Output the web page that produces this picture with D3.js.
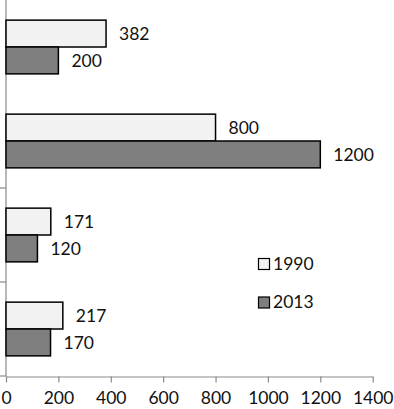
<!DOCTYPE html>
<html><head><meta charset="utf-8">
<script src="https://cdn.jsdelivr.net/npm/d3@7"></script>
<style>body{margin:0;background:#fff}svg{display:block}</style>
</head><body>
<svg id="c" width="394" height="409"></svg>
<script>
const categories = ["A", "B", "C", "D"];
const seriesNames = ["1990", "2013"];
const values1990 = [382, 800, 171, 217];
const values2013 = [200, 1200, 120, 170];
const xTicks = [0, 200, 400, 600, 800, 1000, 1200, 1400];
const colors = ["#f2f2f2", "#7f7f7f"];

const svg = d3.select("#c");
const font = "Lato, 'Open Sans', sans-serif";
const fs = 17.5;
const x = d3.scaleLinear().domain([0, 1400]).range([6, 372.7]);
const y0 = d3.scaleBand().domain(categories).range([0, 376]);
const y1 = d3.scaleBand().domain(seriesNames).range([0, y0.bandwidth()]).paddingOuter(0.75).paddingInner(0);
const seriesVals = [values1990, values2013];

// left axis
const yAxis = d3.axisLeft(y0).tickSize(6).tickFormat("");
const gy = svg.append("g").attr("transform", "translate(6,0)").call(yAxis);
gy.selectAll(".tick line").attr("transform", `translate(0,${y0.bandwidth()/2})`);
gy.selectAll(".tick").filter((d,i)=>i===0).remove();
gy.selectAll("line,path").attr("stroke", "#8a8a8a").attr("stroke-width", 1.2);
gy.select(".domain").attr("d", "M0,0V376.5");

// bottom axis
const xAxis = d3.axisBottom(x).tickValues(xTicks).tickFormat(d3.format("d")).tickSize(6).tickSizeOuter(0).tickPadding(0);
const gx = svg.append("g").attr("transform", "translate(0,376.5)").call(xAxis);
gx.selectAll("line,path").attr("stroke", "#8a8a8a").attr("stroke-width", 1.2);
gx.selectAll("text").attr("font-family", font).attr("font-size", fs).attr("fill", "#111")
  .attr("dy", null).attr("y", 27.5);

// bars
seriesNames.forEach((s, si) => {
  const g = svg.append("g");
  categories.forEach((c, ci) => {
    const v = seriesVals[si][ci];
    const yy = y0(c) + y1(s);
    g.append("rect").attr("x", x(0)).attr("y", yy)
      .attr("width", x(v) - x(0)).attr("height", y1.bandwidth())
      .attr("fill", colors[si]).attr("stroke", "#000").attr("stroke-width", 1.5);
    g.append("text").attr("x", x(v) + 13).attr("y", yy + y1.bandwidth()/2 + 6.5)
      .attr("font-family", font).attr("font-size", fs).attr("fill", "#111").text(v);
  });
});

// legend
const legY = [258.5, 297];
seriesNames.forEach((s, si) => {
  svg.append("rect").attr("x", 258.5).attr("y", legY[si]).attr("width", 11).attr("height", 11)
    .attr("fill", colors[si]).attr("stroke", "#000").attr("stroke-width", 1.2);
  svg.append("text").attr("x", 273).attr("y", legY[si] + 11)
    .attr("font-family", font).attr("font-size", fs).attr("fill", "#111").text(s);
});
</script>
</body></html>
